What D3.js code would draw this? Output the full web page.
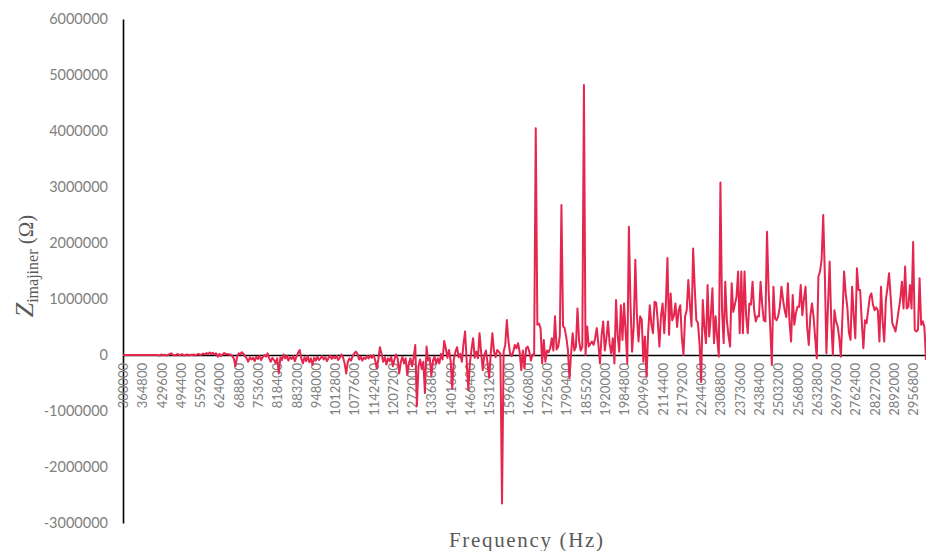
<!DOCTYPE html>
<html>
<head>
<meta charset="utf-8">
<script src="https://cdn.jsdelivr.net/npm/d3@7"></script>
<style>
  body { margin: 0; background: #ffffff; }
  svg { display: block; }
</style>
</head>
<body>
<svg id="chart" width="926" height="551"></svg>
<script>
// Sweep: 300 kHz to 3 MHz, 501 points
const freqStart = 300000;
const freqStep = 5400;

// Imaginary impedance per sweep point, in kΩ
const zImagK = [
  0,0,0,0,0,0,0,0,0,0,
  0,0,0,0,0,0,0,0,0,0,
  0,0,-5,-10,10,-5,5,-10,0,15,
  30,5,-10,0,20,-5,5,15,-10,0,
  10,-5,5,0,10,-10,5,20,0,10,
  25,10,35,15,45,20,40,5,30,-30,
  20,-20,10,35,15,20,5,10,-20,-60,
  -200,-40,30,10,50,20,-20,-60,-120,-40,
  -80,-50,-110,-30,-70,-20,-90,-40,0,-30,
  30,-60,-120,-50,-90,-140,-60,-330,-40,-90,
  10,-60,-20,-100,-40,-70,-20,-110,-30,40,
  90,-60,-150,-40,-110,-20,-130,-60,-180,-50,
  -100,-30,-90,-60,-20,-80,-40,-110,-50,-10,
  -70,-30,-60,-20,-90,-50,10,-40,-150,-330,
  -120,-60,-100,-20,30,60,20,-80,-30,-100,
  -50,-70,-20,-60,-10,-50,0,-90,-240,-80,
  140,20,-120,-40,-170,-60,-110,-30,-200,-80,
  10,-60,-330,-120,-30,-150,-60,-360,-150,-60,
  -200,-40,180,-910,-200,-80,-250,-120,-680,150,
  -100,-50,-380,-100,-30,-160,-60,-150,20,-80,
  250,120,-50,90,-100,-600,-80,60,140,-40,
  20,-120,200,420,-100,-620,-150,100,300,-50,
  60,-60,390,50,-270,0,80,-150,-410,30,
  390,60,-40,90,60,20,-2650,60,180,625,
  250,30,-20,60,180,120,210,50,-270,80,
  -230,120,150,60,-100,10,0,4050,540,560,
  480,-150,270,-120,80,50,120,300,80,690,
  100,150,350,2680,520,480,320,100,-420,20,
  390,80,150,830,250,80,150,4820,0,510,
  150,200,240,180,300,480,200,-150,350,600,
  80,300,600,200,30,300,-150,980,350,60,
  890,270,920,400,-150,2290,900,60,500,1700,
  700,240,690,630,-120,330,-390,400,890,550,
  390,950,930,600,150,700,920,390,900,1730,
  360,1100,620,700,920,500,800,890,300,0,
  690,800,1340,900,510,1900,1200,620,570,200,
  -480,980,500,210,1250,330,700,1190,210,690,
  300,-30,3080,800,210,1310,620,350,150,1280,
  770,900,1040,1490,390,1490,390,1490,700,390,
  920,900,1310,800,600,690,690,1310,900,620,
  600,2200,1160,500,-180,1220,650,620,700,860,
  1220,980,800,680,1280,600,240,1070,540,750,
  860,860,1250,710,1000,1220,500,180,700,920,
  680,300,-60,1400,1490,1700,2500,1450,30,900,
  1670,600,0,800,600,510,300,-30,700,1490,
  1100,860,400,270,1220,700,300,1550,1160,1160,
  600,120,620,570,800,1040,1100,900,800,850,
  800,240,1220,600,240,980,1200,1460,1040,570,
  500,420,600,800,1000,1310,830,1580,830,860,
  1250,830,2020,450,420,450,1370,540,600,500,
  -90
];

// Value axis ticks (Ω)
const yTicks = [-3000000, -2000000, -1000000, 0, 1000000, 2000000, 3000000, 4000000, 5000000, 6000000];

// Category labels shown on the frequency axis (every 12th point)
const xTickLabels = [
  "300000","364800","429600","494400","559200","624000","688800","753600",
  "818400","883200","948000","1012800","1077600","1142400","1207200","1272000",
  "1336800","1401600","1466400","1531200","1596000","1660800","1725600","1790400",
  "1855200","1920000","1984800","2049600","2114400","2179200","2244000","2308800",
  "2373600","2438400","2503200","2568000","2632800","2697600","2762400","2827200",
  "2892000","2956800"
];

const points = zImagK.map((v, i) => ({ f: freqStart + i * freqStep, z: v * 1000 }));

const svg = d3.select("#chart");
const plotLeft = 123, plotRight = 926, plotTop = 19, plotBottom = 523;

const x = d3.scaleLinear()
  .domain([freqStart, freqStart + (zImagK.length - 1) * freqStep])
  .range([plotLeft, plotRight]);
const y = d3.scaleLinear()
  .domain([-3000000, 6000000])
  .range([plotBottom, plotTop]);

const tickFont = "Lato, 'Open Sans', sans-serif";
const tickColor = "#808080";

// Vertical axis
const yAxis = svg.append("g")
  .attr("transform", `translate(${plotLeft},0)`)
  .call(d3.axisLeft(y).tickValues(yTicks).tickSize(0).tickSizeOuter(0).tickPadding(15)
    .tickFormat(d => String(d)));
yAxis.select(".domain").attr("stroke", "#000").attr("stroke-width", 1.6);
yAxis.selectAll("text")
  .attr("fill", tickColor)
  .style("font-family", tickFont)
  .style("font-size", "14.5px");

// Horizontal axis through zero, labels rotated
const xAxis = svg.append("g")
  .attr("transform", `translate(0,${y(0)})`)
  .call(d3.axisBottom(x).tickValues(xTickLabels.map(Number)).tickSize(0).tickSizeOuter(0)
    .tickFormat((d, i) => xTickLabels[i]));
xAxis.select(".domain").attr("stroke", "#000").attr("stroke-width", 1.6);
xAxis.selectAll("text")
  .attr("fill", tickColor)
  .attr("transform", "rotate(-90)")
  .attr("text-anchor", "end")
  .attr("x", -8)
  .attr("y", 0)
  .attr("dy", "0.35em")
  .style("font-family", tickFont)
  .style("font-size", "13px");

// Impedance trace
const line = d3.line()
  .x(d => x(d.f))
  .y(d => y(d.z));
svg.append("path")
  .datum(points)
  .attr("d", line)
  .attr("fill", "none")
  .attr("stroke", "#e5264f")
  .attr("stroke-width", 2)
  .attr("stroke-linejoin", "round");

// Axis titles
svg.append("text")
  .attr("x", 526)
  .attr("y", 547)
  .attr("text-anchor", "middle")
  .attr("fill", "#595959")
  .attr("textLength", 154)
  .style("font-family", "'Liberation Serif', 'DejaVu Serif', serif")
  .style("font-size", "21px")
  .text("Frequency (Hz)");

const yTitle = svg.append("text")
  .attr("transform", "translate(33,266) rotate(-90)")
  .attr("text-anchor", "middle")
  .attr("fill", "#595959")
  .style("font-family", "'Liberation Serif', 'DejaVu Serif', serif");
yTitle.append("tspan").style("font-size", "26px").style("font-style", "italic").text("Z");
yTitle.append("tspan").style("font-size", "16px").attr("dy", 5).text("imajiner");
yTitle.append("tspan").style("font-size", "21px").attr("dy", -5).text(" (Ω)");
</script>
</body>
</html>
